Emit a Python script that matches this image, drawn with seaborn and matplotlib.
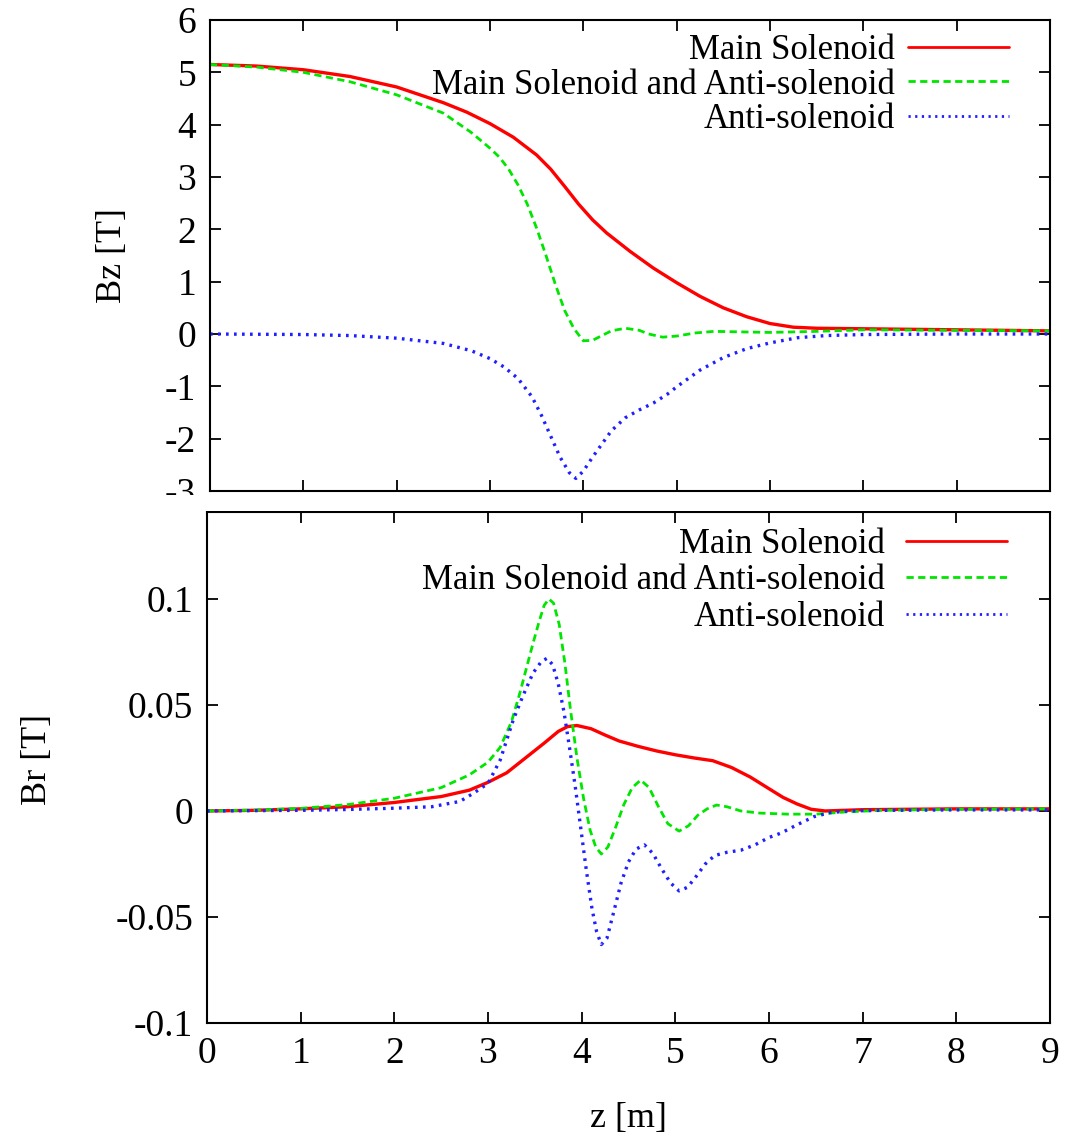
import numpy as np
import pandas as pd
import matplotlib
matplotlib.use("Agg")
import matplotlib.pyplot as plt
import seaborn as sns
from matplotlib.patches import Rectangle

# ---------------- data ----------------
series_names = ["Main Solenoid", "Main Solenoid and Anti-solenoid", "Anti-solenoid"]

# Top panel: Bz [T]
z_main_bz = [0, 0.5, 1, 1.5, 2, 2.5, 2.75, 3, 3.25, 3.5, 3.65, 3.8, 3.95, 4.1, 4.25,
             4.5, 4.75, 5, 5.25, 5.5, 5.75, 6, 6.25, 6.5, 7, 7.5, 8, 8.5, 9]
bz_main = [5.15, 5.12, 5.05, 4.92, 4.72, 4.42, 4.24, 4.02, 3.76, 3.42, 3.15, 2.82, 2.48,
           2.18, 1.93, 1.58, 1.26, 0.98, 0.72, 0.5, 0.33, 0.2, 0.13, 0.11, 0.1, 0.09,
           0.08, 0.07, 0.06]

z_both_bz = [0, 0.5, 1, 1.5, 2, 2.5, 2.8, 3.0, 3.1, 3.2, 3.3, 3.4, 3.5, 3.6, 3.7, 3.8,
             3.9, 4.0, 4.1, 4.2, 4.3, 4.45, 4.6, 4.7, 4.85, 5.0, 5.2, 5.4, 5.7, 6.0,
             6.5, 7, 8, 9]
bz_both = [5.15, 5.1, 5.0, 4.82, 4.57, 4.22, 3.85, 3.55, 3.38, 3.15, 2.85, 2.48, 2.02,
           1.5, 0.95, 0.45, 0.1, -0.13, -0.12, -0.03, 0.06, 0.11, 0.07, 0.0, -0.06,
           -0.04, 0.02, 0.05, 0.04, 0.03, 0.05, 0.08, 0.07, 0.06]

z_anti_bz = [0, 1, 1.5, 2, 2.5, 2.8, 3.0, 3.15, 3.3, 3.45, 3.55, 3.65, 3.75, 3.85,
             3.92, 4.0, 4.1, 4.2, 4.3, 4.45, 4.6, 4.75, 4.9, 5.0, 5.25, 5.5, 5.75,
             6.0, 6.3, 6.6, 7, 8, 9]
bz_anti = [0, -0.01, -0.03, -0.08, -0.18, -0.32, -0.47, -0.63, -0.85, -1.2, -1.55,
           -1.95, -2.35, -2.65, -2.76, -2.62, -2.35, -2.1, -1.85, -1.6, -1.45, -1.32,
           -1.15, -1.01, -0.69, -0.45, -0.28, -0.17, -0.07, -0.03, -0.01, 0, 0]

# Bottom panel: Br [T]
z_main_br = [0, 0.5, 1, 1.5, 2, 2.5, 2.8, 3.0, 3.2, 3.4, 3.6, 3.75, 3.85, 3.95, 4.1,
             4.25, 4.4, 4.6, 4.8, 5.0, 5.2, 5.4, 5.6, 5.8, 6.0, 6.15, 6.3, 6.45, 6.6,
             6.8, 7, 8, 9]
br_main = [0, 0.0003, 0.001, 0.002, 0.004, 0.0068, 0.0098, 0.0135, 0.018, 0.025, 0.032,
           0.0375, 0.0398, 0.0403, 0.0388, 0.0358, 0.033, 0.0305, 0.0283, 0.0265,
           0.025, 0.0237, 0.0205, 0.016, 0.0105, 0.0064, 0.0033, 0.0008, 0.0, 0.0003,
           0.0006, 0.001, 0.001]

z_both_br = [0, 0.5, 1, 1.5, 2, 2.5, 2.8, 3.0, 3.13, 3.25, 3.34, 3.42, 3.48, 3.55, 3.6,
             3.65, 3.7, 3.76, 3.82, 3.88, 3.95, 4.02, 4.09, 4.15, 4.21, 4.28, 4.36,
             4.45, 4.54, 4.63, 4.72, 4.82, 4.92, 5.04, 5.14, 5.24, 5.34, 5.44, 5.55,
             5.7, 5.9, 6.2, 6.5, 6.8, 7.2, 8, 9]
br_both = [0, 0.0004, 0.0012, 0.003, 0.006, 0.011, 0.017, 0.023, 0.030, 0.042, 0.0556,
           0.069, 0.079, 0.090, 0.097, 0.100, 0.098, 0.088, 0.07, 0.048, 0.025, 0.006,
           -0.009, -0.017, -0.0203, -0.017, -0.008, 0.003, 0.011, 0.0146, 0.011, 0.002,
           -0.006, -0.0095, -0.007, -0.002, 0.001, 0.0028, 0.002, 0.0, -0.001, -0.0015,
           -0.0015, -0.0005, 0.0003, 0.0008, 0.001]

z_anti_br = [0, 1, 1.5, 2, 2.4, 2.7, 2.85, 3.0, 3.13, 3.27, 3.37, 3.48, 3.57, 3.63,
             3.69, 3.75, 3.81, 3.87, 3.93, 3.99, 4.05, 4.11, 4.16, 4.21, 4.27, 4.34,
             4.42, 4.5, 4.58, 4.67, 4.76, 4.85, 4.95, 5.04, 5.13, 5.22, 5.32, 5.42,
             5.55, 5.7, 5.85, 6.0, 6.13, 6.3, 6.48, 6.65, 6.85, 7.2, 8, 9]
br_anti = [0, 0.0003, 0.0007, 0.0013, 0.002, 0.0045, 0.0085, 0.013, 0.024, 0.043, 0.054,
           0.065, 0.0705, 0.072, 0.069, 0.06, 0.047, 0.03, 0.012, -0.008, -0.028,
           -0.046, -0.057, -0.063, -0.06, -0.048, -0.034, -0.024, -0.018, -0.016,
           -0.02, -0.027, -0.034, -0.0377, -0.036, -0.031, -0.025, -0.021, -0.0195,
           -0.0185, -0.016, -0.0125, -0.0104, -0.0065, -0.0027, -0.0008, 0, 0.0003,
           0.0005, 0.0005]

z_ticks = [0, 1, 2, 3, 4, 5, 6, 7, 8, 9]
bz_ticks = [-3, -2, -1, 0, 1, 2, 3, 4, 5, 6]
br_ticks = [-0.1, -0.05, 0, 0.05, 0.1]
br_tick_labels = ["-0.1", "-0.05", "0", "0.05", "0.1"]

# ---------------- build tables ----------------
def frame(zs, vals, names, col):
    parts = []
    for z, v, n in zip(zs, vals, names):
        parts.append(pd.DataFrame({"z": z, col: v, "series": n}))
    return pd.concat(parts, ignore_index=True)

df_bz = frame([z_main_bz, z_both_bz, z_anti_bz], [bz_main, bz_both, bz_anti],
              series_names, "Bz")
df_br = frame([z_main_br, z_both_br, z_anti_br], [br_main, br_both, br_anti],
              series_names, "Br")

# ---------------- style ----------------
sns.set_theme(style="white")
plt.rcParams["font.family"] = ["Liberation Serif", "DejaVu Serif"]
plt.rcParams["axes.unicode_minus"] = False

palette = {series_names[0]: "#ff0000", series_names[1]: "#00e600",
           series_names[2]: "#2020ff"}
dashes = {series_names[0]: "", series_names[1]: (2.6, 1.6), series_names[2]: (0.8, 1.6)}
widths = {series_names[0]: 2.4, series_names[1]: 2.0, series_names[2]: 2.4}

W, H = 1068, 1141
fig = plt.figure(figsize=(W / 100, H / 100), dpi=100)
fig.patch.set_facecolor("white")

ax1 = fig.add_axes([210 / W, 1 - 491 / H, 840 / W, 471 / H])
ax2 = fig.add_axes([207 / W, 1 - 1023 / H, 843 / W, 511 / H])

TICK_FS = 27
LEG_FS = 25
LAB_FS = 26


def draw(ax, df, ycol, anchor, spacing, textpad):
    sns.lineplot(data=df, x="z", y=ycol, hue="series", style="series",
                 palette=palette, dashes=dashes, hue_order=series_names,
                 style_order=series_names, sort=False, estimator=None, ax=ax,
                 linewidth=2.0)
    for line, n in zip(ax.get_lines(), series_names):
        line.set_linewidth(widths[n])
    ax.set_xlim(0, 9)
    ax.set_xticks(z_ticks)
    for s in ax.spines.values():
        s.set_color("black")
        s.set_linewidth(1.5)
    ax.tick_params(direction="in", length=8, width=1.3, top=True, right=True,
                   bottom=True, left=True, labelsize=TICK_FS, colors="black", pad=10)
    handles, labels = ax.get_legend_handles_labels()
    leg = ax.legend(handles, labels, loc="upper right", bbox_to_anchor=anchor,
                    markerfirst=False, frameon=False, fontsize=LEG_FS,
                    handlelength=2.9, labelspacing=spacing, borderaxespad=0.0,
                    handletextpad=textpad)
    for t in leg.get_texts():
        t.set_ha("right")
        t.set_color("black")
    leg._legend_box.align = "right"


# legend anchors in axes fraction
draw(ax1, df_bz, "Bz", (1 - 27 / 840, 1.0), 0.05, 0.4)
ax1.set_ylim(-3, 6)
ax1.set_yticks(bz_ticks)
ax1.set_xticklabels([])
ax1.set_xlabel("")
ax1.set_ylabel("Bz [T]", fontsize=LAB_FS, color="black")
ax1.yaxis.set_label_coords(-0.097, 0.5)

draw(ax2, df_br, "Br", (1 - 29 / 843, 1 - 2 / 511), 0.1, 0.62)
ax2.set_ylim(-0.1, 0.141)
ax2.set_yticks(br_ticks)
ax2.set_yticklabels(br_tick_labels)
ax2.set_xlabel("z [m]", fontsize=LAB_FS, color="black")
ax2.set_ylabel("Br [T]", fontsize=LAB_FS, color="black")
ax2.yaxis.set_label_coords(-0.182, 0.515)
ax2.xaxis.set_label_coords(0.5, -0.155)

# gap between the panels (multiplot clearing)
fig.patches.append(Rectangle((0, 1 - 511 / H), 1, 16 / H, transform=fig.transFigure,
                             facecolor="white", edgecolor="none", zorder=0.5))

fig.savefig("out.png", dpi=100, facecolor="white")
